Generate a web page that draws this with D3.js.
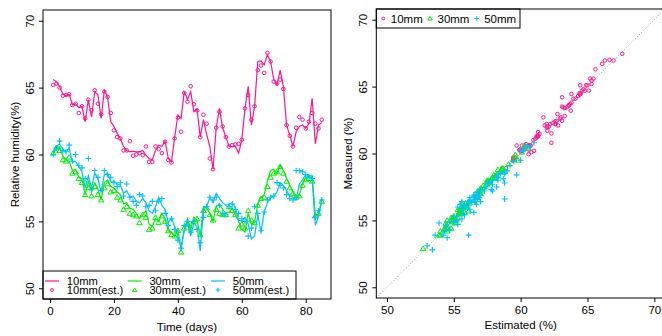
<!DOCTYPE html>
<html><head><meta charset="utf-8">
<script src="https://cdn.jsdelivr.net/npm/d3@7/dist/d3.min.js"></script>
<style>
body{margin:0;background:#fff}
svg{display:block}
text{font-family:"Liberation Sans",Arial,Helvetica,sans-serif;font-size:11.5px;fill:#000}
</style>
</head><body>
<svg id="c" width="662" height="336"></svg>
<script>
// ---- data ----
const days = d3.range(1, 86);
const m10 = [65.6,65.45,65.1,64.5,64.4,64.5,63.7,63.8,63.5,63.6,62.45,64.1,62.8,64.7,64.45,62.7,64.8,64.3,62.45,62.1,
  61.6,61.2,60.6,60.3,60.2,60.25,60.2,60.2,60.3,59.95,59.7,59.6,60.3,60.7,60.6,61.0,59.7,59.45,61.3,62.95,
  62.7,64.7,64.1,64.7,63.2,63.4,61.3,62.6,61.5,60.6,58.9,62.0,63.45,62.0,61.3,60.6,60.6,60.6,60.1,61.1,
  63.45,65.1,62.2,63.6,66.95,67.0,66.7,67.45,66.95,65.6,65.2,66.3,65.1,62.2,61.45,60.6,61.7,62.1,62.2,61.95,
  62.3,64.2,60.8,62.2,62.4];
const e10 = [65.2,65.3,65.0,64.4,64.45,64.5,63.7,63.8,63.1,63.6,62.7,64.1,63.3,64.8,63.8,63.0,64.7,64.3,63.1,61.8,
  61.3,61.2,60.3,60.3,61.0,59.9,60.0,60.1,59.95,60.6,59.45,59.45,60.6,60.4,60.1,60.95,59.6,59.4,61.2,62.75,
  61.7,64.6,63.95,65.1,63.75,63.3,61.3,62.97,62.3,59.7,58.9,62.0,63.2,62.1,61.3,60.6,60.7,60.75,60.8,61.1,
  63.45,64.45,62.6,63.6,66.3,66.65,66.1,67.6,66.95,65.45,65.3,65.6,64.9,62.2,61.4,60.6,62.0,62.8,62.6,61.95,
  62.45,63.1,62.3,61.95,62.6];
const m30 = [60.1,60.4,60.6,59.9,59.6,59.5,58.8,58.9,58.3,58.2,57.0,58.0,57.2,57.9,57.4,56.6,57.9,58.1,57.6,57.5,
  57.2,57.0,56.3,56.4,56.0,55.9,55.6,55.2,55.5,55.8,54.8,54.6,55.2,55.0,55.6,55.2,54.3,54.2,53.9,54.4,
  52.9,54.4,55.2,54.4,55.3,55.1,53.9,56.1,56.0,55.6,55.0,56.1,56.3,55.9,55.6,55.7,56.0,55.5,55.0,54.4,
  54.2,55.6,54.8,54.9,56.3,56.8,57.0,58.0,58.8,58.9,58.6,59.2,58.8,58.2,57.7,57.2,56.7,57.0,57.8,58.3,
  58.4,58.4,55.5,55.5,56.5];
const e30 = [60.1,60.5,60.3,59.6,59.5,59.8,58.6,58.7,58.2,57.9,57.0,57.5,56.9,57.6,57.0,56.6,57.5,57.8,57.2,57.3,
  56.8,56.6,55.9,56.1,55.6,55.5,55.4,54.9,55.5,55.3,54.4,54.5,55.3,54.9,55.4,55.0,54.3,54.0,53.9,54.3,
  52.7,54.5,54.8,54.5,55.0,55.2,54.0,55.8,56.0,55.5,55.1,55.9,55.6,55.5,55.5,56.1,55.8,55.5,54.5,54.8,
  54.5,55.8,55.1,54.9,56.2,56.7,56.8,57.6,58.3,58.6,58.7,59.1,58.6,58.0,57.5,57.1,56.8,56.9,57.7,58.1,
  58.2,58.0,55.4,55.6,56.5];
const m50 = [60.2,60.6,60.8,60.4,60.2,60.5,59.4,59.5,59.1,58.7,57.5,58.4,57.5,58.6,58.2,57.2,58.5,58.6,58.0,58.0,
  57.8,57.7,57.1,57.3,56.8,56.9,56.5,56.4,56.7,56.4,55.8,55.6,56.1,56.8,56.2,55.9,54.9,55.3,54.6,53.9,
  53.1,54.3,54.9,53.9,54.9,54.6,52.8,56.0,56.1,56.8,56.4,57.1,56.7,56.4,56.2,56.3,56.4,56.0,55.1,55.0,
  55.3,54.8,53.7,53.9,55.5,54.2,55.7,56.4,56.8,56.9,57.2,57.9,57.7,57.3,56.9,56.8,56.6,57.8,58.1,58.5,
  58.4,58.2,54.7,55.4,56.6];
const e50 = [60.0,60.5,61.0,60.3,60.2,60.7,59.5,60.0,59.2,59.0,58.2,59.7,57.4,58.8,58.3,57.3,58.8,58.5,58.3,57.9,
  57.6,57.9,56.9,57.8,56.8,56.5,56.2,57.0,56.9,56.1,56.2,56.5,55.8,56.5,56.7,55.6,54.7,55.2,54.4,53.6,
  53.0,54.7,55.0,54.2,55.0,54.4,53.4,55.3,56.1,56.8,56.6,56.8,56.2,55.6,55.5,56.1,56.3,55.9,55.6,55.2,
  55.0,53.9,54.5,56.1,55.6,54.3,55.7,56.6,56.8,56.9,57.9,57.7,57.5,57.0,56.7,56.6,58.8,58.8,58.7,58.5,
  58.3,58.2,55.3,55.8,56.6];
const seriesNames = ["10mm", "30mm", "50mm"];
const estNames = ["10mm(est.)", "30mm(est.)", "50mm(est.)"];
const colors = ["#ff1493", "#00f000", "#00bfff"];
const rhTicks = [50, 55, 60, 65, 70];
const timeTicks = [0, 20, 40, 60, 80];
const estTicks = [50, 55, 60, 65, 70];

const measured = [m10, m30, m50];
const estimated = [e10, e30, e50];
const shapes = ["circle", "triangle", "plus"];

const svg = d3.select("#c");

function marker(g, shape, x, y, color, sc) {
  sc = sc || 1;
  if (shape === "circle") {
    g.append("circle").attr("cx", x).attr("cy", y).attr("r", 1.8 * sc)
      .attr("fill", "none").attr("stroke", color).attr("stroke-width", 1);
  } else if (shape === "triangle") {
    const s = 2.6 * sc;
    g.append("path").attr("d", `M${x},${y - s}L${x + s * 1.05},${y + s * 0.75}L${x - s * 1.05},${y + s * 0.75}Z`)
      .attr("fill", "none").attr("stroke", color).attr("stroke-width", 1);
  } else {
    const s = 2.9 * sc;
    g.append("path").attr("d", `M${x - s},${y}H${x + s}M${x},${y - s}V${y + s}`)
      .attr("fill", "none").attr("stroke", color).attr("stroke-width", 1.1);
  }
}

// ---------- Left panel ----------
const L = {x0: 43, x1: 331, y0: 10, y1: 299};
const xT = d3.scaleLinear().domain([-2.19, 87.9]).range([L.x0, L.x1]);
const yL = d3.scaleLinear().domain([49.2, 70.8]).range([L.y1, L.y0]);

const gl = svg.append("g");
const line = d3.line().x((d, i) => xT(days[i])).y(d => yL(d));
measured.forEach((arr, k) => {
  gl.append("path").attr("d", line(arr)).attr("fill", "none")
    .attr("stroke", colors[k]).attr("stroke-width", 1.2);
  estimated[k].forEach((v, i) => marker(gl, shapes[k], xT(days[i]), yL(v), colors[k]));
});

// axes left
const axL = svg.append("g").attr("transform", `translate(${L.x0},0)`)
  .call(d3.axisLeft(yL).tickValues(rhTicks).tickSize(4).tickFormat(d3.format("d")));
axL.select(".domain").remove();
axL.selectAll("text").attr("transform", "rotate(-90)").attr("x", 0).attr("y", -8.8)
  .attr("dy", 0).attr("text-anchor", "middle").style("font-size", "11.5px");
const axB = svg.append("g").attr("transform", `translate(0,${L.y1})`)
  .call(d3.axisBottom(xT).tickValues(timeTicks).tickSize(4).tickFormat(d3.format("d")));
axB.select(".domain").remove();
axB.selectAll("text").attr("y", 16.3).attr("dy", 0).style("font-size", "11.5px");

// legend left
const lg = svg.append("g");
lg.append("rect").attr("x", 43).attr("y", 271).attr("width", 253).attr("height", 28)
  .attr("fill", "#fff").attr("stroke", "#000").attr("stroke-width", 1);
const colX = [45, 127.7, 211];
seriesNames.forEach((n, k) => {
  lg.append("line").attr("x1", colX[k]).attr("x2", colX[k] + 14).attr("y1", 281).attr("y2", 281)
    .attr("stroke", colors[k]).attr("stroke-width", 1.2);
  lg.append("text").attr("x", colX[k] + 21.7).attr("y", 284.8).style("font-size", "11.2px").text(n);
  marker(lg, shapes[k], colX[k] + 7, 290, colors[k], 0.8);
  lg.append("text").attr("x", colX[k] + 21.7).attr("y", 294.4).style("font-size", "11.2px").text(estNames[k]);
});

svg.append("rect").attr("x", L.x0).attr("y", L.y0).attr("width", L.x1 - L.x0).attr("height", L.y1 - L.y0)
  .attr("fill", "none").attr("stroke", "#000").attr("stroke-width", 1);

svg.append("text").attr("x", (L.x0 + L.x1) / 2).attr("y", 331).attr("text-anchor", "middle").text("Time (days)");
svg.append("text").attr("transform", `translate(19,${(L.y0 + L.y1) / 2}) rotate(-90)`)
  .attr("text-anchor", "middle").text("Relative humidity(%)");

// ---------- Right panel ----------
const R = {x0: 376.3, x1: 665, y0: 9, y1: 298};
const xE = d3.scaleLinear().domain([49.2, 70.8]).range([R.x0, R.x1]);
const yM = d3.scaleLinear().domain([49.2, 70.8]).range([R.y1, R.y0]);
const gr = svg.append("g");
gr.append("line").attr("x1", xE(49.2)).attr("y1", yM(49.2)).attr("x2", xE(70.8)).attr("y2", yM(70.8))
  .attr("stroke", "#999").attr("stroke-width", 1).attr("stroke-dasharray", "1,2");
measured.forEach((arr, k) => {
  arr.forEach((v, i) => marker(gr, shapes[k], xE(estimated[k][i]), yM(v), colors[k]));
});

const axR = svg.append("g").attr("transform", `translate(${R.x0},0)`)
  .call(d3.axisLeft(yM).tickValues(rhTicks).tickSize(4).tickFormat(d3.format("d")));
axR.select(".domain").remove();
axR.selectAll("text").attr("transform", "rotate(-90)").attr("x", 0).attr("y", -9.3)
  .attr("dy", 0).attr("text-anchor", "middle").style("font-size", "11.5px");
const axRB = svg.append("g").attr("transform", `translate(0,${R.y1})`)
  .call(d3.axisBottom(xE).tickValues(estTicks).tickSize(4).tickFormat(d3.format("d")));
axRB.select(".domain").remove();
axRB.selectAll("text").attr("y", 15.8).attr("dy", 0).style("font-size", "11.5px");

// legend right
const rg = svg.append("g");
rg.append("rect").attr("x", R.x0).attr("y", R.y0).attr("width", 520 - R.x0).attr("height", 19)
  .attr("fill", "#fff").attr("stroke", "#000").attr("stroke-width", 1);
const rX = [383.3, 430, 476.7];
seriesNames.forEach((n, k) => {
  marker(rg, shapes[k], rX[k], 18.5, colors[k], 0.8);
  rg.append("text").attr("x", rX[k] + 7.5).attr("y", 22.6).text(n);
});

svg.append("rect").attr("x", R.x0).attr("y", R.y0).attr("width", R.x1 - R.x0).attr("height", R.y1 - R.y0)
  .attr("fill", "none").attr("stroke", "#000").attr("stroke-width", 1);
svg.append("text").attr("x", (R.x0 + R.x1) / 2).attr("y", 328.5).attr("text-anchor", "middle").text("Estimated (%)");
svg.append("text").attr("transform", `translate(352,${(R.y0 + R.y1) / 2}) rotate(-90)`)
  .attr("text-anchor", "middle").text("Measured (%)");
</script>
</body></html>
